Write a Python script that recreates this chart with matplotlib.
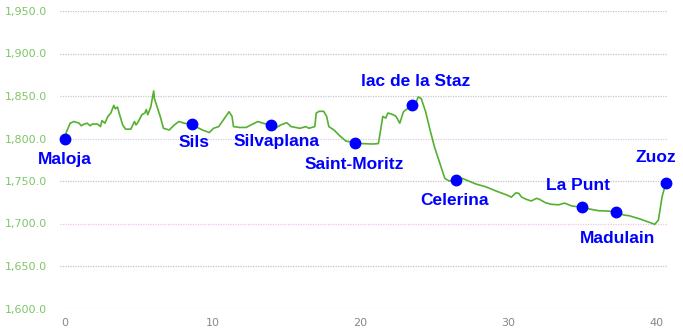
import matplotlib
matplotlib.use("Agg")
import matplotlib.pyplot as plt

# Elevation profile (distance km, elevation m)
dist = [0.0, 0.1, 0.35, 0.6, 0.95, 1.1, 1.3, 1.5, 1.7, 1.85, 2.2, 2.4, 2.5, 2.7, 2.9, 3.1, 3.3, 3.4,
        3.55, 3.66, 3.9, 4.1, 4.45, 4.7, 4.8, 4.9, 5.2, 5.4, 5.5, 5.6, 5.8, 6.0, 6.05, 6.2, 6.44, 6.66,
        7.05, 7.4, 7.7, 8.07, 8.6, 8.95, 9.3, 9.76, 10.05, 10.4, 10.8, 11.1, 11.3, 11.4, 11.8, 12.25,
        12.7, 13.05, 13.4, 13.95, 14.2, 14.6, 15.0, 15.3, 15.9, 16.3, 16.5, 16.9, 17.0, 17.2, 17.5,
        17.7, 17.85, 18.2, 18.6, 19.0, 19.65, 20.1, 20.8, 21.2, 21.3, 21.5, 21.7, 21.85, 22.2, 22.4,
        22.65, 22.9, 23.2, 23.45, 23.65, 23.9, 24.1, 24.4, 24.7, 25.0, 25.4, 25.7, 26.0, 26.45, 26.9,
        27.3, 27.8, 28.5, 29.2, 29.9, 30.2, 30.5, 30.7, 30.9, 31.2, 31.55, 31.9, 32.1, 32.5, 32.9,
        33.4, 33.8, 34.3, 35.0, 35.5, 36.1, 36.65, 37.25, 37.8, 38.2, 38.9, 39.6, 39.9, 40.15, 40.4,
        40.55, 40.65]
elev = [1801, 1808, 1818, 1820, 1818, 1815, 1817, 1818, 1815, 1817, 1817, 1814, 1821, 1818, 1826,
        1830, 1839, 1835, 1837, 1830, 1816, 1811, 1811, 1820, 1816, 1818, 1828, 1830, 1834, 1828,
        1837, 1856, 1847, 1839, 1826, 1812, 1810, 1816, 1820, 1818, 1816.5, 1813, 1810, 1807, 1812,
        1814, 1824, 1831.5, 1826, 1814, 1813, 1813, 1817, 1820, 1818, 1815.5, 1812, 1816, 1818.6,
        1814, 1812, 1814, 1812, 1814, 1830, 1832, 1832, 1826, 1814, 1810, 1803, 1797, 1795, 1794,
        1793.5, 1794, 1804, 1826, 1824, 1830, 1828, 1826, 1818, 1831.5, 1835.5, 1839, 1838, 1849,
        1847, 1831.5, 1810, 1790, 1769, 1753, 1750, 1751, 1753, 1750, 1746.5, 1743, 1738, 1733.5,
        1731, 1736, 1735.5, 1731, 1728.5, 1726.5, 1729.6, 1728.5, 1724.5, 1722.6, 1722, 1724,
        1720.6, 1719, 1717, 1715, 1714.7, 1714, 1710, 1709, 1705.3, 1701, 1699, 1704, 1731.5,
        1741, 1748]

# Places
places = ["Maloja", "Sils", "Silvaplana", "Saint-Moritz", "lac de la Staz", "Celerina",
          "La Punt", "Madulain", "Zuoz"]
place_dist = [0.0, 8.6, 13.95, 19.65, 23.45, 26.45, 35.0, 37.25, 40.65]
place_elev = [1800, 1816.5, 1815.5, 1795, 1839.5, 1751, 1719, 1714, 1748]
label_offsets = [(0, -15), (1.5, -13), (3.6, -11.5), (-0.7, -16), (3, 17), (-0.7, -14.5),
                 (-3, 16), (1.5, -19.5), (-7, 18)]

yticks = [1600, 1650, 1700, 1750, 1800, 1850, 1900, 1950]
ytick_labels = ["1,600.0", "1,650.0", "1,700.0", "1,750.0", "1,800.0", "1,850.0", "1,900.0", "1,950.0"]
xticks = [0, 10, 20, 30, 40]

grid_colors = {1600: "#c8c8f0", 1650: "#c4c4c4", 1700: "#f0c0f0", 1750: "#c4c4c4",
               1800: "#dcc8ec", 1850: "#d0c4d0", 1900: "#c4c4c4", 1950: "#c4c4c4"}

fig = plt.figure(figsize=(6.83, 3.36), dpi=100)
ax = fig.add_axes([60 / 683, 27.5 / 336, 608 / 683, 297.5 / 336])
ax.set_xlim(-0.34, 40.8)
ax.set_ylim(1600, 1950)

for yv in yticks:
    ax.axhline(yv, color=grid_colors[yv], lw=0.9, ls=(0, (1, 1)), zorder=1)

ax.plot(dist, elev, color="#55b030", lw=1.2, zorder=3)
ax.plot(place_dist, place_elev, "o", color="#0000ff", ms=7.5, zorder=4, clip_on=False)

for name, xd, yd, off in zip(places, place_dist, place_elev, label_offsets):
    ax.annotate(name, (xd, yd), xytext=off, textcoords="offset points",
                ha="center", va="center", color="#0000ff", fontsize=12.5,
                fontweight="bold", family="Liberation Sans", zorder=5,
                annotation_clip=False)

ax.set_yticks(yticks)
ax.set_yticklabels(ytick_labels)
ax.set_xticks(xticks)
ax.tick_params(axis="y", length=0, pad=9.5, labelsize=8, labelcolor="#80c468")
ax.tick_params(axis="x", length=0, pad=6.5, labelsize=8, labelcolor="#888888")
for s in ax.spines.values():
    s.set_visible(False)

fig.savefig("out.png", dpi=100)
